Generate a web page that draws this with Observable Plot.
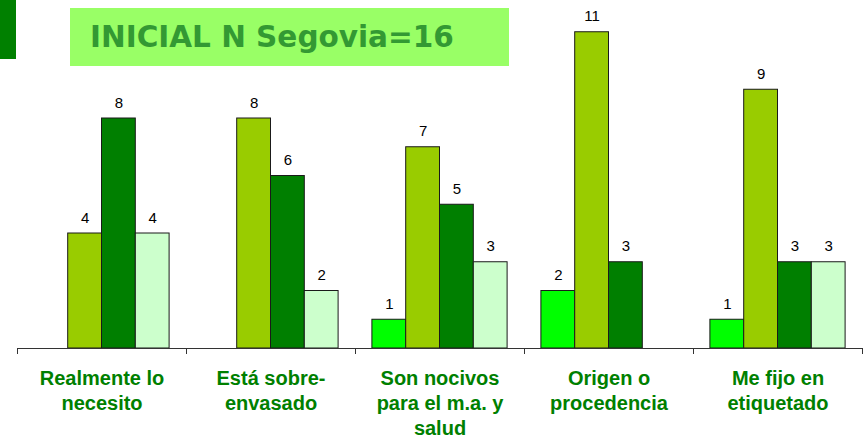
<!DOCTYPE html>
<html>
<head>
<meta charset="utf-8">
<script src="https://cdn.jsdelivr.net/npm/d3@7"></script>
<script src="https://cdn.jsdelivr.net/npm/@observablehq/plot@0.6"></script>
<style>
  html, body { margin: 0; padding: 0; background: #fff; }
  #wrap { position: relative; width: 863px; height: 439px; overflow: hidden; }
  #corner { position: absolute; left: 0; top: 0; width: 16px; height: 59px; background: #008000; }
  #title { position: absolute; left: 70px; top: 8px; width: 439px; height: 58px; background: #99FF66;
           box-sizing: border-box; padding-left: 20px; line-height: 58px; white-space: nowrap;
           font-family: "DejaVu Sans", sans-serif; font-weight: bold; font-size: 29.5px; color: #339933; }
  #chart { position: absolute; left: 0; top: 0; }
</style>
</head>
<body>
<div id="wrap">
  <div id="chart"></div>
  <div id="corner"></div>
  <div id="title">INICIAL N Segovia=16</div>
</div>
<script>
const categories = ["Realmente lo necesito", "Está sobre-envasado", "Son nocivos para el m.a. y salud", "Origen o procedencia", "Me fijo en etiquetado"];
const categoryLabels = ["Realmente lo\nnecesito", "Está sobre-\nenvasado", "Son nocivos\npara el m.a. y\nsalud", "Origen o\nprocedencia", "Me fijo en\netiquetado"];
const seriesNames = ["Serie 1", "Serie 2", "Serie 3", "Serie 4"];
const serie1 = [0, 0, 1, 2, 1];
const serie2 = [4, 8, 7, 11, 9];
const serie3 = [8, 6, 5, 3, 3];
const serie4 = [4, 2, 3, 0, 3];
const seriesColors = ["#00FF00", "#99CC00", "#007F00", "#CCFFCC"];

const allSeries = [serie1, serie2, serie3, serie4];
const rows = [];
categories.forEach((c, i) => {
  allSeries.forEach((s, j) => rows.push({cat: c, series: seriesNames[j], value: s[i]}));
});
const nonZero = rows.filter(d => d.value > 0);

const W = 863, H = 439, mL = 17, mR = 1, mT = 3, mB = 91;
const halfBand = (W - mL - mR) / categories.length / 2;

const chart = Plot.plot({
  width: W, height: H,
  marginTop: mT, marginBottom: mB, marginLeft: mL, marginRight: mR,
  style: {fontFamily: "'Liberation Sans', Arial, sans-serif", background: "transparent"},
  fx: {domain: categories, padding: 0, round: false, axis: null},
  x: {domain: seriesNames, paddingInner: 0, paddingOuter: 0.5, round: false, axis: null},
  y: {domain: [0, 12], axis: null},
  color: {domain: seriesNames, range: seriesColors},
  marks: [
    Plot.barY(nonZero, {fx: "cat", x: "series", y: "value", fill: "series", stroke: "#1a1a1a", strokeWidth: 1}),
    Plot.text(nonZero, {fx: "cat", x: "series", y: "value", text: d => String(d.value), dy: -11, lineAnchor: "bottom", fontSize: 15, fill: "#000"}),
    Plot.ruleY([0], {stroke: "#333", strokeWidth: 1}),
    Plot.axisFx({anchor: "bottom", tickSize: 6, tickFormat: () => "", dx: -halfBand, stroke: "#333", label: null}),
    Plot.axisFx({anchor: "bottom", tickSize: 6, tickFormat: () => "", dx: halfBand, stroke: "#333", label: null}),
    Plot.text(categories, {fx: d => d, text: (d, i) => categoryLabels[i], frameAnchor: "bottom", lineAnchor: "top", dy: 19, fontSize: 20, fontWeight: "bold", fill: "#008000", lineHeight: 1.25})
  ]
});
document.getElementById("chart").appendChild(chart);
</script>
</body>
</html>
